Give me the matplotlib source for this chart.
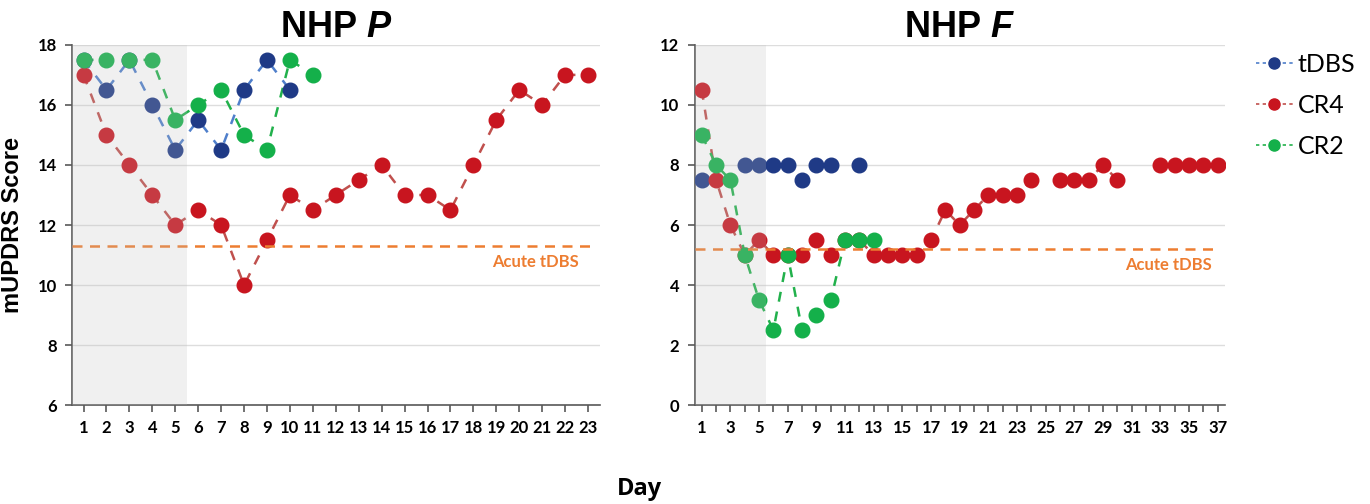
import numpy as np
import matplotlib
matplotlib.use("Agg")
import matplotlib.pyplot as plt
from matplotlib.lines import Line2D

nan = np.nan
# ---- NHP P data ----
p_days = list(range(1, 24))
p_tdbs = [17.5, 16.5, 17.5, 16, 14.5, 15.5, 14.5, 16.5, 17.5, 16.5] + [nan] * 13
p_cr4 = [17, 15, 14, 13, 12, 12.5, 12, 10, 11.5, 13, 12.5, 13, 13.5, 14, 13, 13, 12.5, 14, 15.5, 16.5, 16, 17, 17]
p_cr2 = [17.5, 17.5, 17.5, 17.5, 15.5, 16, 16.5, 15, 14.5, 17.5, 17] + [nan] * 12
p_acute = 11.3

# ---- NHP F data ----
f_days = list(range(1, 38))
f_tdbs = [7.5, nan, nan, 8, 8, 8, 8, 7.5, 8, 8, nan, 8] + [nan] * 25
f_cr4 = [10.5, 7.5, 6, 5, 5.5, 5, 5, 5, 5.5, 5, 5.5, 5.5, 5, 5, 5, 5, 5.5, 6.5, 6, 6.5,
         7, 7, 7, 7.5, nan, 7.5, 7.5, 7.5, 8, 7.5, nan, nan, 8, 8, 8, 8, 8]
f_cr2 = [9, 8, 7.5, 5, 3.5, 2.5, 5, 2.5, 3, 3.5, 5.5, 5.5, 5.5] + [nan] * 24
f_acute = 5.2

series_names = ["tDBS", "CR4", "CR2"]
marker_colors = ["#1F3A86", "#C8151F", "#14B04A"]
line_colors = ["#4F7FCB", "#C0504D", "#22B14C"]
acute_color = "#ED7D31"

plt.rcParams['font.family'] = ['Lato', 'DejaVu Sans']
plt.rcParams['mathtext.fontset'] = 'custom'
plt.rcParams['mathtext.bfit'] = 'Liberation Sans:bold:italic'

fig = plt.figure(figsize=(13.7, 5.04), dpi=100)
axP = fig.add_axes([0.0526, 0.196, 0.385, 0.715])
axF = fig.add_axes([0.507, 0.196, 0.387, 0.715])


def draw(ax, days, data, acute, xlim, ylim, yticks, xticklabels_every, title, text_x, show_lines):
    ax.set_xlim(*xlim)
    ax.set_ylim(*ylim)
    ax.axvspan(0.5, 5.5, color="#BFBFBF", alpha=0.22, lw=0, zorder=5)
    for vals, mc, lc, sl in zip(data, marker_colors, line_colors, show_lines):
        y = np.array(vals, dtype=float)
        x = np.array(days, dtype=float)
        if sl:
            ax.plot(x, y, ls=(0, (4, 4)), color=lc, lw=1.8, zorder=2)
        ax.plot(x, y, ls="none", marker="o", ms=10.5, mfc=mc, mec=mc, zorder=3)
    ax.axhline(acute, color=acute_color, ls=(0, (4, 3)), lw=1.8, xmax=0.985, zorder=4)
    ax.text(text_x, acute - 0.25 * (ylim[1] - ylim[0]) / 12, "Acute tDBS", color=acute_color,
            fontsize=12, fontweight="bold", ha="right", va="top", zorder=6)
    ax.set_yticks(yticks)
    ax.yaxis.grid(True, color="#DDDDDD", lw=1)
    ax.set_axisbelow(True)
    ax.set_xticks(days)
    ax.set_xticklabels([str(d) if (d - 1) % xticklabels_every == 0 else "" for d in days])
    for s in ["top", "right"]:
        ax.spines[s].set_visible(False)
    for s in ["left", "bottom"]:
        ax.spines[s].set_color("#595959")
        ax.spines[s].set_linewidth(1.2)
    ax.tick_params(axis="both", direction="out", length=5, width=1.2, color="#595959",
                   labelsize=12, pad=6)
    for lab in ax.get_xticklabels() + ax.get_yticklabels():
        lab.set_fontweight("bold")
    ax.set_title(title, fontsize=26, fontweight="bold", pad=4,
                 family=["Liberation Sans", "DejaVu Sans"])


draw(axP, p_days, [p_tdbs, p_cr4, p_cr2], p_acute, (0.5, 23.5), (6, 18), [6, 8, 10, 12, 14, 16, 18], 1,
     r"NHP $\bfit{P}$", 22.6, [True, True, True])
draw(axF, f_days, [f_tdbs, f_cr4, f_cr2], f_acute, (0.5, 37.5), (0, 12), [0, 2, 4, 6, 8, 10, 12], 2,
     r"NHP $\bfit{F}$", 36.6, [False, True, True])

axP.set_ylabel("mUPDRS Score", fontsize=17, fontweight="bold", family=["Liberation Sans", "DejaVu Sans"], labelpad=10)
fig.text(0.467, 0.03, "Day", fontsize=17, fontweight="bold", ha="center", va="center",
         family=["Open Sans", "DejaVu Sans"])

handles = [Line2D([0], [0], color=lc, ls=(0, (2, 2)), lw=1.2, marker="o", ms=8, mfc=mc, mec=mc)
           for mc, lc in zip(marker_colors, line_colors)]
fig.legend(handles, series_names, loc="upper left", bbox_to_anchor=(0.9, 0.94), frameon=False,
           fontsize=18, handlelength=1.5, handletextpad=0.2, labelspacing=0.72)

fig.savefig("out.png", dpi=100)
